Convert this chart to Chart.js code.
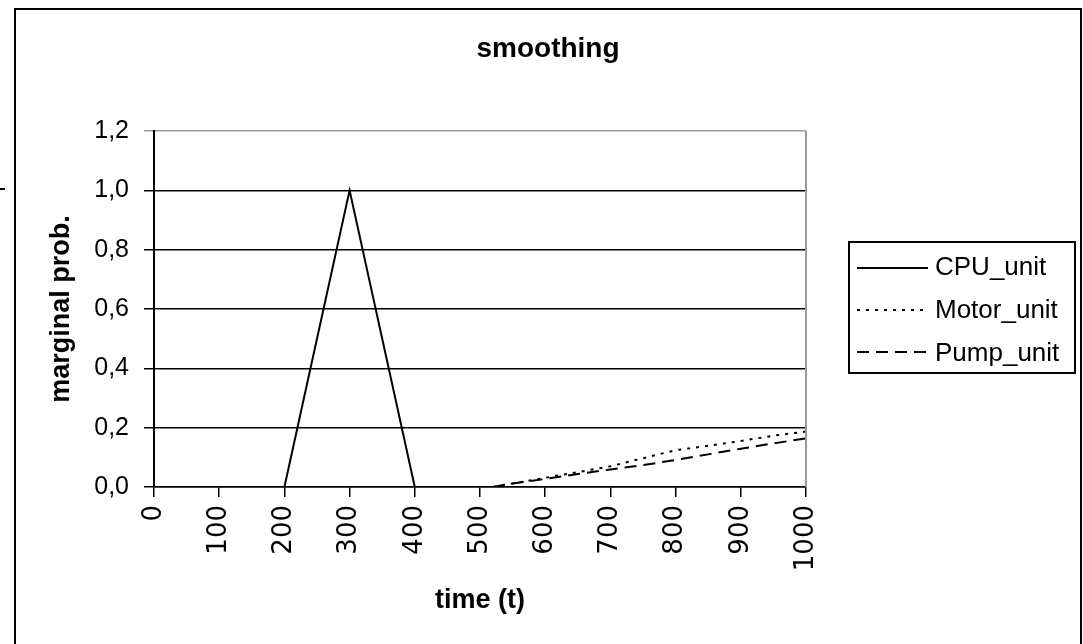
<!DOCTYPE html>
<html>
<head>
<meta charset="utf-8">
<script src="https://cdn.jsdelivr.net/npm/chart.js@4/dist/chart.umd.min.js"></script>
<style>
  html, body { margin: 0; padding: 0; background: #fff; }
</style>
</head>
<body>
<canvas id="line-chart" width="1083" height="644"></canvas>

<script>
    var chart_title = "smoothing";
    var x_title = "time (t)";
    var y_title = "marginal prob.";

    // CPU_unit: the null breaks the line between 450 and 520
    var cpu_t = [150, 200, 300, 400, 450, 485, 520, 1000];
    var cpu_p = [0, 0, 1.0, 0, 0, null, 0, 0];

    var motor_t = [520, 550, 600, 650, 700, 750, 800, 850, 900, 950, 1000];
    var motor_p = [0, 0.012, 0.031, 0.05, 0.07, 0.097, 0.124, 0.139, 0.155, 0.173, 0.187];

    var pump_t = [520, 550, 600, 650, 700, 750, 800, 850, 900, 950, 1000];
    var pump_p = [0, 0.012, 0.027, 0.044, 0.059, 0.074, 0.091, 0.11, 0.129, 0.147, 0.164];

    var labels = ["CPU_unit", "Motor_unit", "Pump_unit"];
    var dashes = [[], [3, 6], [12, 7]];

    function to_points(ts, ps) {
        var pts = [];
        for (var i = 0; i < ts.length; i++) {
            pts.push({x: ts[i], y: ps[i]});
        }
        return pts;
    }

    function comma(v) {
        return v.toFixed(1).replace(".", ",");
    }

    // outer frame, title and boxed legend
    var decor = {
        id: "decor",
        beforeDraw: function (chart) {
            var ctx = chart.ctx;
            ctx.save();
            ctx.fillStyle = "#fff";
            ctx.fillRect(0, 0, chart.width, chart.height);
            ctx.strokeStyle = "#000";
            ctx.lineWidth = 2;
            ctx.strokeRect(15, 9, 1066, 700);
            ctx.beginPath();
            ctx.moveTo(0, 189);
            ctx.lineTo(5, 189);
            ctx.stroke();
            ctx.restore();
        },
        afterDraw: function (chart) {
            var ctx = chart.ctx;
            var area = chart.chartArea;
            ctx.save();

            ctx.strokeStyle = "#999";
            ctx.lineWidth = 2;
            ctx.beginPath();
            ctx.moveTo(area.right, area.top);
            ctx.lineTo(area.right, area.bottom);
            ctx.stroke();

            ctx.fillStyle = "#000";
            ctx.font = "bold 28px 'Liberation Sans', Arial, sans-serif";
            ctx.textAlign = "center";
            ctx.textBaseline = "alphabetic";
            ctx.fillText(chart_title, 548, 57);

            ctx.strokeStyle = "#000";
            ctx.lineWidth = 2;
            ctx.strokeRect(849, 242, 226, 131);

            ctx.font = "26px 'Liberation Sans', Arial, sans-serif";
            ctx.textAlign = "left";
            chart.data.datasets.forEach(function (ds, i) {
                var ly = 268 + 42 * i;
                ctx.setLineDash(ds.borderDash || []);
                ctx.lineWidth = ds.borderWidth;
                ctx.beginPath();
                ctx.moveTo(857, ly);
                ctx.lineTo(928, ly);
                ctx.stroke();
                ctx.setLineDash([]);
                ctx.fillText(ds.label, 935, 275 + 43 * i);
            });
            ctx.restore();
        }
    };

    new Chart(document.getElementById("line-chart"), {
        type: "line",
        data: {
            datasets: [{
                label: labels[0],
                data: to_points(cpu_t, cpu_p),
                borderColor: "#000",
                borderWidth: 2,
                borderDash: dashes[0],
                spanGaps: false,
                fill: false
            }, {
                label: labels[1],
                data: to_points(motor_t, motor_p),
                borderColor: "#000",
                borderWidth: 2,
                borderDash: dashes[1],
                fill: false
            }, {
                label: labels[2],
                data: to_points(pump_t, pump_p),
                borderColor: "#000",
                borderWidth: 2,
                borderDash: dashes[2],
                fill: false
            }]
        },
        options: {
            responsive: false,
            animation: false,
            elements: { point: { radius: 0 }, line: { tension: 0 } },
            layout: { padding: { left: 20, top: 131, right: 277, bottom: 0 } },
            plugins: {
                legend: { display: false },
                title: { display: false },
                tooltip: { enabled: false }
            },
            scales: {
                x: {
                    type: "linear",
                    min: 0,
                    max: 1000,
                    afterFit: function (s) { s.height = 157; },
                    ticks: {
                        stepSize: 100,
                        autoSkip: false,
                        minRotation: 90,
                        maxRotation: 90,
                        padding: 8,
                        color: "#000",
                        font: { family: "'DejaVu Sans'", size: 26 },
                        callback: function (v) { return String(v); }
                    },
                    grid: { drawOnChartArea: false, drawTicks: true, tickLength: 10, color: "#000", lineWidth: 1.5 },
                    border: { color: "#000", width: 1.5 },
                    title: {
                        display: true,
                        text: x_title,
                        color: "#000",
                        font: { family: "'Liberation Sans'", size: 27, weight: "bold" },
                        padding: { top: 0, bottom: 27 }
                    }
                },
                y: {
                    min: 0,
                    max: 1.2,
                    afterFit: function (s) { s.width = 134; },
                    ticks: {
                        stepSize: 0.2,
                        padding: 15,
                        color: "#000",
                        font: { family: "'Liberation Sans'", size: 25 },
                        callback: function (v) { return comma(v); }
                    },
                    grid: {
                        color: function (c) { return c.tick && c.tick.value > 1.1 ? "#999" : "#000"; },
                        lineWidth: 1.5,
                        tickLength: 10
                    },
                    border: { color: "#000", width: 2 },
                    title: {
                        display: true,
                        text: y_title,
                        color: "#000",
                        font: { family: "'Liberation Sans'", size: 27, weight: "bold" },
                        padding: { top: 25, bottom: 0 }
                    }
                }
            }
        },
        plugins: [decor]
    });
</script>
</body>
</html>
